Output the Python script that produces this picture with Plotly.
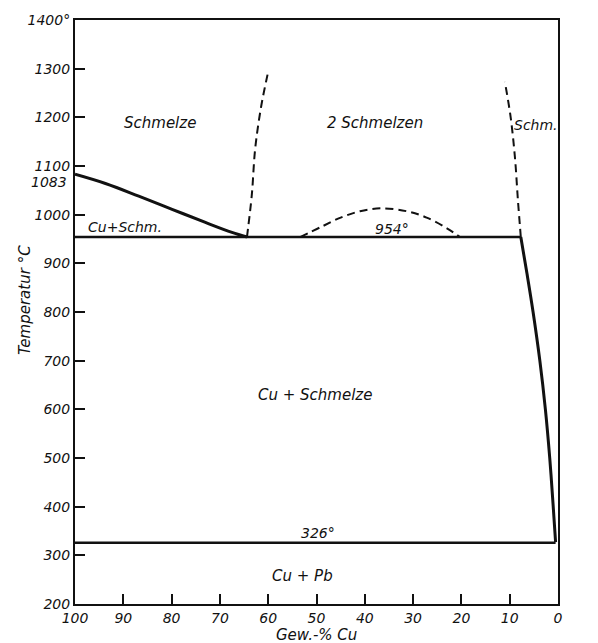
import plotly.graph_objects as go

# Cu-Pb phase diagram (composition in weight-% Cu, temperature in °C)

# Liquidus of copper, from the Cu melting point down to the monotectic point
liq_cu_x = [100, 93.7, 86.8, 79.9, 73.0, 67.5, 64.4]
liq_cu_t = [1083, 1064, 1038, 1011, 984, 963.5, 954]

# Monotectic horizontal at 954 °C
mono_x = [100, 7.7]
mono_t = [954, 954]

# Miscibility-gap boundaries (dashed)
gap_left_x = [64.4, 63.4, 62.7, 61.5, 60.0]
gap_left_t = [954, 1040, 1135, 1220, 1294]
gap_right_x = [7.7, 8.3, 8.9, 9.8, 11.0]
gap_right_t = [954, 1030, 1116, 1200, 1273]

# Dome below the gap (dashed)
dome_x = [53.4, 49, 45, 41, 36.5, 31.3, 27.2, 23, 20.3]
dome_t = [954, 975, 994, 1007, 1013, 1007, 994, 972, 954]

# Liquidus on the lead side
liq_pb_x = [7.7, 6.44, 5.16, 3.76, 2.61, 1.71, 0.99, 0.5]
liq_pb_t = [954, 880, 800, 700, 600, 500, 400, 327]

# Eutectic horizontal at 326 °C
eut_x = [100, 0.5]
eut_t = [326, 326]

x_ticks = [100, 90, 80, 70, 60, 50, 40, 30, 20, 10, 0]
y_ticks = [200, 300, 400, 500, 600, 700, 800, 900, 1000, 1100, 1200, 1300, 1400]
y_tick_text = ["200", "300", "400", "500", "600", "700", "800", "900",
               "1000", "1100", "1200", "1300", "1400°"]

FONT = "DejaVu Sans"
ink = "#111111"

fig = go.Figure()

def solid(x, y, w):
    fig.add_trace(go.Scatter(x=x, y=y, mode="lines", line=dict(color=ink, width=w),
                             line_shape="spline", hoverinfo="skip"))

def dashed(x, y):
    fig.add_trace(go.Scatter(x=x, y=y, mode="lines",
                             line=dict(color=ink, width=2, dash="8px,5px"),
                             line_shape="spline", hoverinfo="skip"))

solid(liq_cu_x, liq_cu_t, 3)
solid(mono_x, mono_t, 2.5)
dashed(gap_left_x, gap_left_t)
dashed(gap_right_x, gap_right_t)
dashed(dome_x, dome_t)
solid(liq_pb_x, liq_pb_t, 3)
solid(eut_x, eut_t, 2.5)

labels = [
    ("Schmelze", 82.4, 1188, 15, "center"),
    ("2 Schmelzen", 37.8, 1188, 15, "center"),
    ("Schm.", 4.6, 1185, 14, "center"),
    ("Cu+Schm.", 89.6, 974, 14, "center"),
    ("954°", 34.4, 970, 14, "center"),
    ("Cu + Schmelze", 50.3, 629, 15, "center"),
    ("326°", 49.7, 345, 14, "center"),
    ("Cu + Pb", 53.0, 257, 15, "center"),
    ("327°", -0.4, 320, 14, "left"),
]
for txt, x, y, size, anchor in labels:
    fig.add_annotation(x=x, y=y, text=txt, showarrow=False, xanchor=anchor,
                       font=dict(family=FONT, size=size, color=ink, style="italic"))

# Copper melting point, written just below the 1100 tick label
fig.add_annotation(x=0, xref="paper", y=1083, yref="y", text="1083", showarrow=False,
                   xanchor="right", xshift=-6, yshift=-8,
                   font=dict(family=FONT, size=14, color=ink, style="italic"))

fig.add_annotation(x=-0.125, xref="paper", y=0.52, yref="paper", text="Temperatur °C",
                   showarrow=False, textangle=-90,
                   font=dict(family=FONT, size=15, color=ink, style="italic"))
fig.add_annotation(x=0.5, xref="paper", y=-0.0525, yref="paper", text="Gew.-% Cu",
                   showarrow=False, yanchor="middle",
                   font=dict(family=FONT, size=15, color=ink, style="italic"))

axis_common = dict(showgrid=False, zeroline=False, showline=True, linecolor=ink,
                   linewidth=2, mirror=True, ticks="inside", ticklen=10, tickwidth=1.5,
                   tickcolor=ink,
                   tickfont=dict(family=FONT, size=14, color=ink, style="italic"))

fig.update_layout(
    width=598, height=643,
    margin=dict(l=75, r=40, t=20, b=39),
    paper_bgcolor="white", plot_bgcolor="white",
    showlegend=False,
    xaxis=dict(range=[100, 0], tickvals=x_ticks, ticktext=[str(v) for v in x_ticks],
               ticklabelstandoff=0, **axis_common),
    yaxis=dict(range=[200, 1400], tickvals=y_ticks, ticktext=y_tick_text,
               **axis_common),
)

fig.write_html("out.html")
